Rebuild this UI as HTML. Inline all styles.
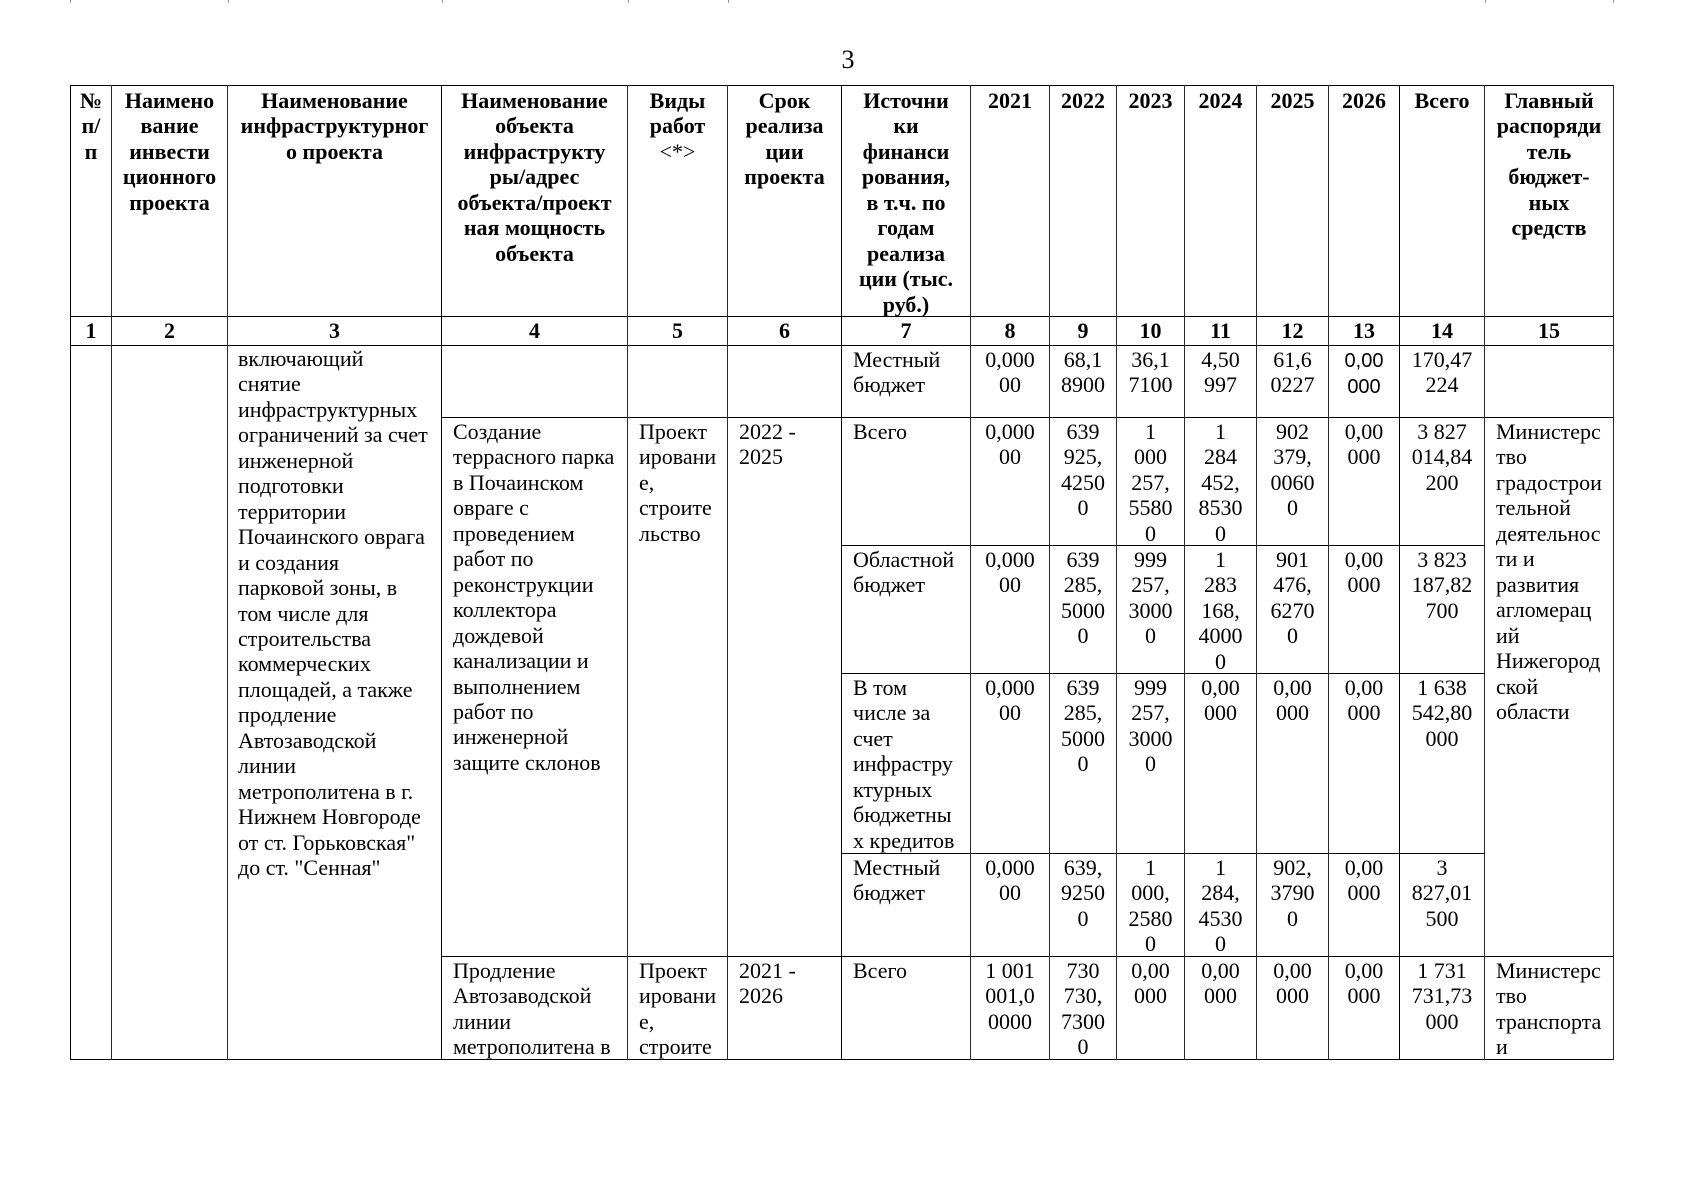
<!DOCTYPE html>
<html lang="ru">
<head>
<meta charset="utf-8">
<style>
  html, body { margin:0; padding:0; background:#fff; }
  #pg { position:relative; width:1697px; height:1200px; background:#fff; overflow:hidden; }
  .h { position:absolute; height:1px; background:#000; }
  .v { position:absolute; width:1px; background:#2a2a2a; top:85px; height:975px; }
  .tk { position:absolute; width:1px; background:#999; top:0; height:3px; }
  .t { position:absolute; font-family:"Liberation Serif","Noto Serif CJK SC",serif; font-size:22px; line-height:25.45px; white-space:nowrap; color:#000; }
  .c { text-align:center; }
  .b { font-weight:bold; }
  .s { font-family:"Liberation Sans","Noto Sans CJK SC",sans-serif; font-size:20px; }
  .n { font-weight:normal; }
</style>
</head>
<body>
<div id="pg">
  <!-- top tick marks -->
  <div class="tk" style="left:70px"></div>
  <div class="tk" style="left:228px"></div>
  <div class="tk" style="left:442px"></div>
  <div class="tk" style="left:628px"></div>
  <div class="tk" style="left:728px"></div>
  <div class="tk" style="left:1485px"></div>
  <div class="tk" style="left:1613px"></div>

  <!-- page number -->
  <div class="t" style="left:798px;top:45px;width:100px;text-align:center;font-size:26px;line-height:30px;">3</div>

  <!-- horizontal lines -->
  <div class="h" style="left:70px;width:1544px;top:85px"></div>
  <div class="h" style="left:70px;width:1544px;top:316px"></div>
  <div class="h" style="left:70px;width:1544px;top:345px"></div>
  <div class="h" style="left:441px;width:1173px;top:417px"></div>
  <div class="h" style="left:841px;width:644px;top:545px"></div>
  <div class="h" style="left:841px;width:644px;top:673px"></div>
  <div class="h" style="left:841px;width:644px;top:853px"></div>
  <div class="h" style="left:441px;width:1173px;top:956px"></div>
  <div class="h" style="left:70px;width:1544px;top:1059px"></div>

  <!-- vertical lines -->
  <div class="v" style="left:70px;background:#000"></div>
  <div class="v" style="left:111px"></div>
  <div class="v" style="left:227px"></div>
  <div class="v" style="left:441px;background:#000"></div>
  <div class="v" style="left:627px"></div>
  <div class="v" style="left:727px"></div>
  <div class="v" style="left:841px;background:#000"></div>
  <div class="v" style="left:970px"></div>
  <div class="v" style="left:1049px"></div>
  <div class="v" style="left:1116px"></div>
  <div class="v" style="left:1184px"></div>
  <div class="v" style="left:1256px"></div>
  <div class="v" style="left:1328px"></div>
  <div class="v" style="left:1399px;background:#000"></div>
  <div class="v" style="left:1484px"></div>
  <div class="v" style="left:1613px"></div>

  <!-- header -->
  <div class="t c b" style="left:71px;width:40px;top:88px">№<br>п/<br>п</div>
  <div class="t c b" style="left:112px;width:115px;top:88px">Наимено<br>вание<br>инвести<br>ционного<br>проекта</div>
  <div class="t c b" style="left:228px;width:213px;top:88px">Наименование<br>инфраструктурног<br>о проекта</div>
  <div class="t c b" style="left:442px;width:185px;top:88px">Наименование<br>объекта<br>инфраструкту<br>ры/адрес<br>объекта/проект<br>ная мощность<br>объекта</div>
  <div class="t c b" style="left:628px;width:99px;top:88px">Виды<br>работ<br><span class="n">&lt;*&gt;</span></div>
  <div class="t c b" style="left:728px;width:113px;top:88px">Срок<br>реализа<br>ции<br>проекта</div>
  <div class="t c b" style="left:842px;width:128px;top:88px">Источни<br>ки<br>финанси<br>рования,<br>в т.ч. по<br>годам<br>реализа<br>ции (тыс.<br>руб.)</div>
  <div class="t c b" style="left:971px;width:78px;top:88px">2021</div>
  <div class="t c b" style="left:1050px;width:66px;top:88px">2022</div>
  <div class="t c b" style="left:1117px;width:67px;top:88px">2023</div>
  <div class="t c b" style="left:1185px;width:71px;top:88px">2024</div>
  <div class="t c b" style="left:1257px;width:71px;top:88px">2025</div>
  <div class="t c b" style="left:1329px;width:70px;top:88px">2026</div>
  <div class="t c b" style="left:1400px;width:84px;top:88px">Всего</div>
  <div class="t c b" style="left:1485px;width:128px;top:88px">Главный<br>распоряди<br>тель<br>бюджет-<br>ных<br>средств</div>

  <!-- number row -->
  <div class="t c b" style="left:71px;width:40px;top:318px">1</div>
  <div class="t c b" style="left:112px;width:115px;top:318px">2</div>
  <div class="t c b" style="left:228px;width:213px;top:318px">3</div>
  <div class="t c b" style="left:442px;width:185px;top:318px">4</div>
  <div class="t c b" style="left:628px;width:99px;top:318px">5</div>
  <div class="t c b" style="left:728px;width:113px;top:318px">6</div>
  <div class="t c b" style="left:842px;width:128px;top:318px">7</div>
  <div class="t c b" style="left:971px;width:78px;top:318px">8</div>
  <div class="t c b" style="left:1050px;width:66px;top:318px">9</div>
  <div class="t c b" style="left:1117px;width:67px;top:318px">10</div>
  <div class="t c b" style="left:1185px;width:71px;top:318px">11</div>
  <div class="t c b" style="left:1257px;width:71px;top:318px">12</div>
  <div class="t c b" style="left:1329px;width:70px;top:318px">13</div>
  <div class="t c b" style="left:1400px;width:84px;top:318px">14</div>
  <div class="t c b" style="left:1485px;width:128px;top:318px">15</div>

  <!-- col 3 -->
  <div class="t" style="left:238px;top:346px">включающий<br>снятие<br>инфраструктурных<br>ограничений за счет<br>инженерной<br>подготовки<br>территории<br>Почаинского оврага<br>и создания<br>парковой зоны, в<br>том числе для<br>строительства<br>коммерческих<br>площадей, а также<br>продление<br>Автозаводской<br>линии<br>метрополитена в г.<br>Нижнем Новгороде<br>от ст. Горьковская"<br>до ст. "Сенная"</div>

  <!-- col 4 -->
  <div class="t" style="left:453px;top:419px">Создание<br>террасного парка<br>в Почаинском<br>овраге с<br>проведением<br>работ по<br>реконструкции<br>коллектора<br>дождевой<br>канализации и<br>выполнением<br>работ по<br>инженерной<br>защите склонов</div>
  <div class="t" style="left:453px;top:958px">Продление<br>Автозаводской<br>линии<br>метрополитена в</div>

  <!-- col 5 -->
  <div class="t" style="left:639px;top:419px">Проект<br>ировани<br>е,<br>строите<br>льство</div>
  <div class="t" style="left:639px;top:958px">Проект<br>ировани<br>е,<br>строите</div>

  <!-- col 6 -->
  <div class="t" style="left:739px;top:419px">2022 -<br>2025</div>
  <div class="t" style="left:739px;top:958px">2021 -<br>2026</div>

  <!-- col 7 -->
  <div class="t" style="left:853px;top:347px">Местный<br>бюджет</div>
  <div class="t" style="left:853px;top:419px">Всего</div>
  <div class="t" style="left:853px;top:547px">Областной<br>бюджет</div>
  <div class="t" style="left:853px;top:675px">В том<br>числе за<br>счет<br>инфрастру<br>ктурных<br>бюджетны<br>х кредитов</div>
  <div class="t" style="left:853px;top:855px">Местный<br>бюджет</div>
  <div class="t" style="left:853px;top:958px">Всего</div>

  <!-- col 8 (2021) -->
  <div class="t c" style="left:971px;width:78px;top:347px">0,000<br>00</div>
  <div class="t c" style="left:971px;width:78px;top:419px">0,000<br>00</div>
  <div class="t c" style="left:971px;width:78px;top:547px">0,000<br>00</div>
  <div class="t c" style="left:971px;width:78px;top:675px">0,000<br>00</div>
  <div class="t c" style="left:971px;width:78px;top:855px">0,000<br>00</div>
  <div class="t c" style="left:971px;width:78px;top:958px">1 001<br>001,0<br>0000</div>

  <!-- col 9 (2022) -->
  <div class="t c" style="left:1050px;width:66px;top:347px">68,1<br>8900</div>
  <div class="t c" style="left:1050px;width:66px;top:419px">639<br>925,<br>4250<br>0</div>
  <div class="t c" style="left:1050px;width:66px;top:547px">639<br>285,<br>5000<br>0</div>
  <div class="t c" style="left:1050px;width:66px;top:675px">639<br>285,<br>5000<br>0</div>
  <div class="t c" style="left:1050px;width:66px;top:855px">639,<br>9250<br>0</div>
  <div class="t c" style="left:1050px;width:66px;top:958px">730<br>730,<br>7300<br>0</div>

  <!-- col 10 (2023) -->
  <div class="t c" style="left:1117px;width:67px;top:347px">36,1<br>7100</div>
  <div class="t c" style="left:1117px;width:67px;top:419px">1<br>000<br>257,<br>5580<br>0</div>
  <div class="t c" style="left:1117px;width:67px;top:547px">999<br>257,<br>3000<br>0</div>
  <div class="t c" style="left:1117px;width:67px;top:675px">999<br>257,<br>3000<br>0</div>
  <div class="t c" style="left:1117px;width:67px;top:855px">1<br>000,<br>2580<br>0</div>
  <div class="t c" style="left:1117px;width:67px;top:958px">0,00<br>000</div>

  <!-- col 11 (2024) -->
  <div class="t c" style="left:1185px;width:71px;top:347px">4,50<br>997</div>
  <div class="t c" style="left:1185px;width:71px;top:419px">1<br>284<br>452,<br>8530<br>0</div>
  <div class="t c" style="left:1185px;width:71px;top:547px">1<br>283<br>168,<br>4000<br>0</div>
  <div class="t c" style="left:1185px;width:71px;top:675px">0,00<br>000</div>
  <div class="t c" style="left:1185px;width:71px;top:855px">1<br>284,<br>4530<br>0</div>
  <div class="t c" style="left:1185px;width:71px;top:958px">0,00<br>000</div>

  <!-- col 12 (2025) -->
  <div class="t c" style="left:1257px;width:71px;top:347px">61,6<br>0227</div>
  <div class="t c" style="left:1257px;width:71px;top:419px">902<br>379,<br>0060<br>0</div>
  <div class="t c" style="left:1257px;width:71px;top:547px">901<br>476,<br>6270<br>0</div>
  <div class="t c" style="left:1257px;width:71px;top:675px">0,00<br>000</div>
  <div class="t c" style="left:1257px;width:71px;top:855px">902,<br>3790<br>0</div>
  <div class="t c" style="left:1257px;width:71px;top:958px">0,00<br>000</div>

  <!-- col 13 (2026) -->
  <div class="t c s" style="left:1329px;width:70px;top:348px;line-height:26px">0,00<br>000</div>
  <div class="t c" style="left:1329px;width:70px;top:419px">0,00<br>000</div>
  <div class="t c" style="left:1329px;width:70px;top:547px">0,00<br>000</div>
  <div class="t c" style="left:1329px;width:70px;top:675px">0,00<br>000</div>
  <div class="t c" style="left:1329px;width:70px;top:855px">0,00<br>000</div>
  <div class="t c" style="left:1329px;width:70px;top:958px">0,00<br>000</div>

  <!-- col 14 (Всего) -->
  <div class="t c" style="left:1400px;width:84px;top:347px">170,47<br>224</div>
  <div class="t c" style="left:1400px;width:84px;top:419px">3 827<br>014,84<br>200</div>
  <div class="t c" style="left:1400px;width:84px;top:547px">3 823<br>187,82<br>700</div>
  <div class="t c" style="left:1400px;width:84px;top:675px">1 638<br>542,80<br>000</div>
  <div class="t c" style="left:1400px;width:84px;top:855px">3<br>827,01<br>500</div>
  <div class="t c" style="left:1400px;width:84px;top:958px">1 731<br>731,73<br>000</div>

  <!-- col 15 -->
  <div class="t" style="left:1496px;top:419px">Министерс<br>тво<br>градострои<br>тельной<br>деятельнос<br>ти и<br>развития<br>агломерац<br>ий<br>Нижегород<br>ской<br>области</div>
  <div class="t" style="left:1496px;top:958px">Министерс<br>тво<br>транспорта<br>и</div>
</div>
</body>
</html>
